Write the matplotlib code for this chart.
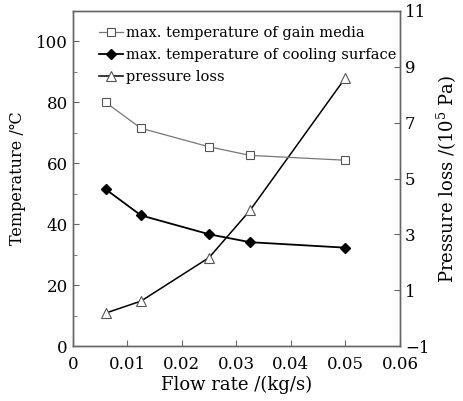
import matplotlib
matplotlib.use("Agg")
import matplotlib.pyplot as plt
from matplotlib.ticker import MultipleLocator

flow_rate = [0.006, 0.0125, 0.025, 0.0325, 0.05]
temp_gain = [80.0, 71.5, 65.4, 62.6, 61.0]
temp_cool = [51.5, 42.9, 36.7, 34.1, 32.3]
pressure_loss = [0.18, 0.61, 2.17, 3.86, 8.61]

x_ticks = [0, 0.01, 0.02, 0.03, 0.04, 0.05, 0.06]
x_tick_labels = ["0", "0.01", "0.02", "0.03", "0.04", "0.05", "0.06"]
left_ticks = [0, 20, 40, 60, 80, 100]
right_ticks = [-1, 1, 3, 5, 7, 9, 11]

plt.rcParams['font.family'] = ['DejaVu Serif', 'DejaVu Sans']
plt.rcParams['mathtext.fontset'] = 'dejavuserif'

fig = plt.figure(figsize=(4.64, 4.01), dpi=100)
ax = fig.add_axes([0.157, 0.137, 0.705, 0.8356])
ax2 = ax.twinx()

spine_c = '#666666'
for a in (ax, ax2):
    for s in a.spines.values():
        s.set_color(spine_c)
        s.set_linewidth(1.0)

l1, = ax.plot(flow_rate, temp_gain, color='#777777', lw=0.9, marker='s', ms=5.5,
              mfc='white', mec='#555555', mew=0.8, label='max. temperature of gain media')
l2, = ax.plot(flow_rate, temp_cool, color='black', lw=1.3, marker='D', ms=5,
              mfc='black', mec='black', label='max. temperature of cooling surface')
l3, = ax2.plot(flow_rate, pressure_loss, color='black', lw=1.1, marker='^', ms=7,
               mfc='white', mec='#555555', mew=0.8, label='pressure loss')
ax.set_zorder(ax2.get_zorder() + 1)
ax.patch.set_visible(False)

ax.set_xlim(0, 0.06)
ax.set_ylim(0, 110)
ax2.set_ylim(-1, 11)
ax.set_xticks(x_ticks)
ax.set_xticklabels(x_tick_labels)
ax.set_yticks(left_ticks)
ax.yaxis.set_minor_locator(MultipleLocator(10))
ax2.set_yticks(right_ticks)

ax.tick_params(axis='both', which='both', direction='in', colors=spine_c,
               labelcolor='black', labelsize=12)
ax.tick_params(which='major', length=4)
ax.tick_params(which='minor', length=3)
ax.tick_params(axis='x', pad=7)
ax2.tick_params(axis='y', direction='in', colors=spine_c, labelcolor='black',
                labelsize=12, length=4)

ax.set_xlabel('Flow rate /(kg/s)', fontsize=13, labelpad=2)
ax.set_ylabel('Temperature /℃', fontsize=11.5, labelpad=7)
ax2.set_ylabel('Pressure loss /(10$^5$ Pa)', fontsize=13, labelpad=4)

leg = ax.legend(handles=[l1, l2, l3], loc='upper left', frameon=False,
                fontsize=10.5, handlelength=1.6, handletextpad=0.2,
                labelspacing=0.55, borderaxespad=0.3, bbox_to_anchor=(0.05, 0.985))

fig.savefig('out.png', dpi=100)
